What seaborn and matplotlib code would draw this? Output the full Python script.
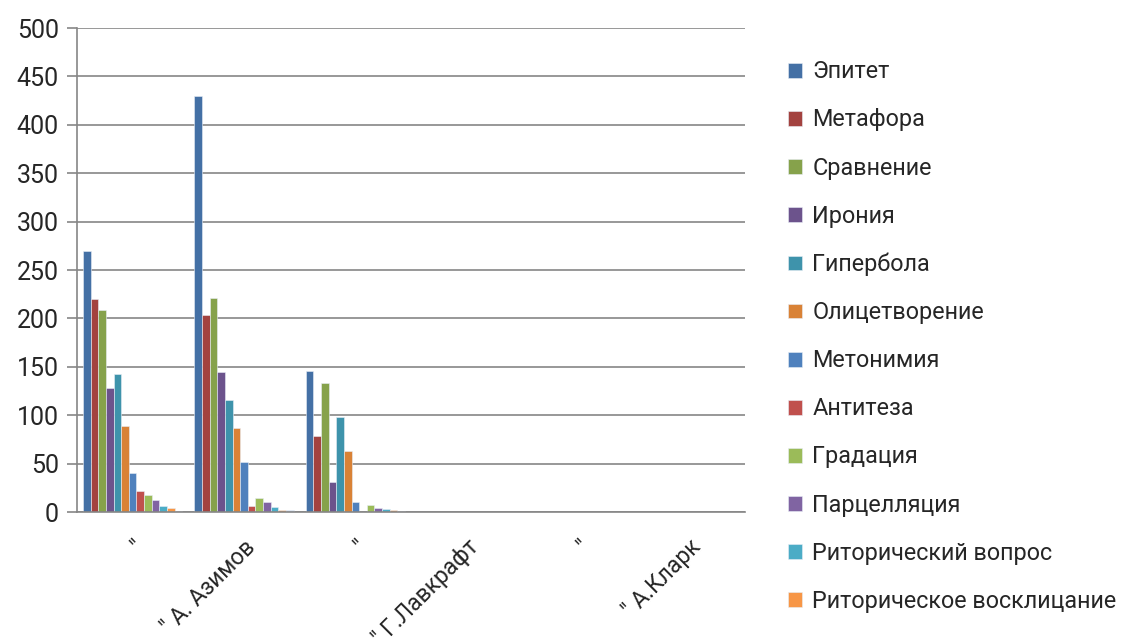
import matplotlib
matplotlib.use("Agg")
import matplotlib.pyplot as plt
import seaborn as sns
import pandas as pd
import numpy as np
from matplotlib.ticker import FixedLocator, MultipleLocator

categories = ['"', '" А. Азимов', '"', '" Г.Лавкрафт', '"', '" А.Кларк']
series = ["Эпитет", "Метафора", "Сравнение", "Ирония", "Гипербола", "Олицетворение",
          "Метонимия", "Антитеза", "Градация", "Парцелляция", "Риторический вопрос",
          "Риторическое восклицание", "Прочее"]
group1 = [270, 220, 209, 128, 143, 89, 40, 22, 18, 12, 6, 4, 1]
group2 = [430, 203, 221, 145, 116, 87, 52, 6, 14, 10, 5, 2, 2]
group3 = [146, 79, 133, 31, 98, 63, 10, 0, 7, 4, 3, 2, 1]
group4 = [0] * 13
group5 = [0] * 13
group6 = [0] * 13

colors = ["#4470A5", "#A3423F", "#86A24B", "#6C538C", "#3E93AB", "#D98236",
          "#4F81BD", "#C0504D", "#9BBB59", "#8064A2", "#4BACC6", "#F79646", "#B9C9E3"]

rows = []
for cat, vals in zip(categories, [group1, group2, group3, group4, group5, group6]):
    for s, v in zip(series, vals):
        rows.append({"cat": cat, "series": s, "value": v})
df = pd.DataFrame(rows)
df["pos"] = df.groupby("series").cumcount()
df["catid"] = df["pos"].astype(str)

sns.set_style("white")
plt.rcParams['font.family'] = ['Roboto', 'DejaVu Sans']

fig = plt.figure(figsize=(11.23, 6.4), dpi=100)
ax = fig.add_axes([77/1123, 1 - 512/640, (745 - 77)/1123, (512 - 28)/640])

sns.barplot(data=df, x="catid", y="value", hue="series", hue_order=series,
            order=[str(i) for i in range(6)], palette=colors, width=0.89,
            ax=ax, legend=True, linewidth=0.4, edgecolor="#e8eef6", saturation=1)

ax.set_xlim(-0.5, 5.5)
ax.set_ylim(0, 500)
ax.yaxis.set_major_locator(MultipleLocator(50))
ax.grid(axis="y", color="#868686", linewidth=1.2)
ax.set_axisbelow(True)
for s in ["top", "right"]:
    ax.spines[s].set_visible(False)
for s in ["left", "bottom"]:
    ax.spines[s].set_color("#868686")
    ax.spines[s].set_linewidth(1.2)
ax.set_xlabel("")
ax.set_ylabel("")

ax.set_xticks(range(6))
ax.set_xticklabels(categories, rotation=45, ha="right", rotation_mode="anchor", fontsize=16.5)
ax.tick_params(axis="x", which="major", length=0, pad=17)
ax.xaxis.set_minor_locator(FixedLocator(np.arange(-0.5, 6, 1)))
ax.tick_params(axis="x", which="minor", length=7, color="#868686", width=1.2, direction="out")
ax.tick_params(axis="y", which="major", length=7, color="#868686", width=1.2, labelsize=18, pad=6,
               direction="out", left=True)

handles, labels = ax.get_legend_handles_labels()
ax.legend_.remove()
fig.legend(handles[:12], labels[:12], loc="upper left", bbox_to_anchor=(779/1123, 1 - 51/640),
           frameon=False, fontsize=16.8, handlelength=0.6, handleheight=0.6, handletextpad=0.42,
           labelspacing=1.075, borderaxespad=0)

fig.savefig("out.png", dpi=100)
